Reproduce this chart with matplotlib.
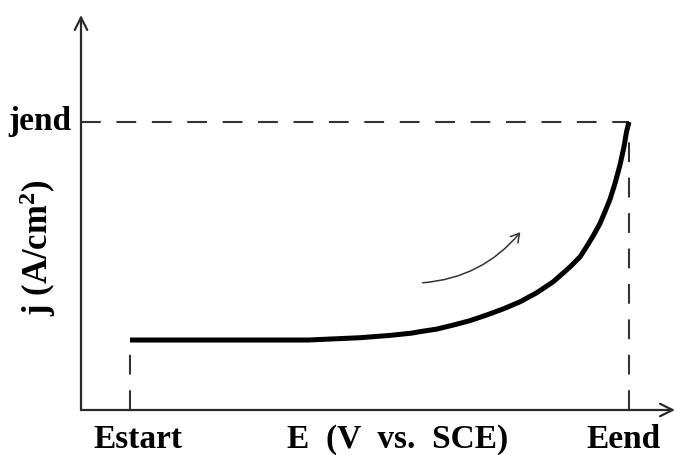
import matplotlib
matplotlib.use("Agg")
import matplotlib.pyplot as plt
from matplotlib.patches import FancyArrowPatch

# Potential (normalised: Estart = 0, Eend = 1) and current density (jend = 1)
potential = [0.0, 0.14, 0.357, 0.461, 0.521, 0.565, 0.581, 0.615, 0.648,
             0.681, 0.715, 0.748, 0.782, 0.815, 0.848, 0.882, 0.902, 0.915,
             0.928, 0.942, 0.952, 0.962, 0.972, 0.982, 0.990, 0.995, 1.0]
current = [0.243, 0.243, 0.243, 0.251, 0.259, 0.267, 0.272, 0.281, 0.295,
           0.310, 0.330, 0.351, 0.376, 0.407, 0.445, 0.497, 0.532, 0.567,
           0.604, 0.648, 0.689, 0.732, 0.787, 0.851, 0.914, 0.966, 1.0]

x_tick_labels = ["Estart", "E  (V  vs.  SCE)", "Eend"]
x_tick_positions = [0.015, 0.536, 0.99]
y_tick_label = "jend"
y_axis_label = r"j (A/cm$^2$)"

plt.rcParams["mathtext.fontset"] = "custom"
plt.rcParams["mathtext.rm"] = "Liberation Serif:bold"
plt.rcParams["mathtext.it"] = "Liberation Serif:bold"
plt.rcParams["mathtext.bf"] = "Liberation Serif:bold"

W, H = 681, 455
fig = plt.figure(figsize=(W / 100, H / 100), dpi=100)
ax = fig.add_axes([81 / W, (H - 410) / H, (675 - 81) / W, (410 - 15) / H])
ax.set_xlim(-0.0982, 1.0922)
ax.set_ylim(0, 1.3715)
ax.set_axis_off()

axis_col = "#2a2a2a"
arrow_kw = dict(arrowstyle="->,head_length=0.9,head_width=0.45",
                color=axis_col, lw=1.6, shrinkA=0, shrinkB=0)
ax.annotate("", xy=(1, 0), xytext=(0, 0), xycoords="axes fraction",
            textcoords="axes fraction", arrowprops=arrow_kw)
ax.annotate("", xy=(0, 1), xytext=(0, 0), xycoords="axes fraction",
            textcoords="axes fraction", arrowprops=arrow_kw)

# Guide lines to the start and end of the sweep
E0, E1 = potential[0], potential[-1]
j0, j1 = current[0], current[-1]
xmin = ax.get_xlim()[0]
dash = dict(color="#333333", lw=1.5, linestyle=(0, (9.5, 7.5)))
ax.plot([xmin, E1], [j1, j1], **dash)
ax.plot([E1, E1], [0, j1], **dash)
ax.plot([E0, E0], [0, j0], **dash)

# Polarisation curve
ax.plot(potential, current, color="black", lw=3.6,
        solid_capstyle="butt", solid_joinstyle="round")

# Sweep direction arrow
sweep = FancyArrowPatch((0.581, 0.441), (0.786, 0.625),
                        connectionstyle="arc3,rad=0.22",
                        arrowstyle="->,head_length=6,head_width=3.5",
                        color="#333333", lw=1.1)
ax.add_patch(sweep)

font = dict(family=["Liberation Serif", "DejaVu Serif"], weight="bold",
            color="black", fontsize=24)
for lab, xp in zip(x_tick_labels, x_tick_positions):
    ax.text(xp, -0.048, lab, ha="center", va="top", **font)
ax.text(xmin - 0.02, j1, y_tick_label, ha="right", va="center", **font)
ax.text(xmin - 0.087, 0.565, y_axis_label, ha="center", va="center",
        rotation=90, **{**font, "fontsize": 25})

fig.savefig("out.png", dpi=100)
